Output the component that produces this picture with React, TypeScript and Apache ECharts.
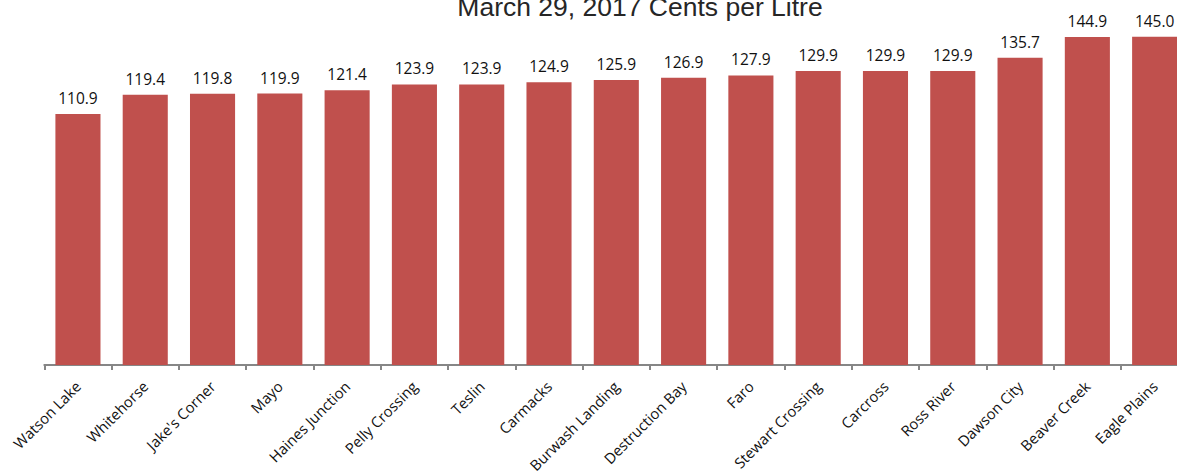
import React, { useEffect, useRef } from "react";
import * as echarts from "echarts";

const titleText = "March 29, 2017 Cents per Litre";
const communities = [
  "Watson Lake",
  "Whitehorse",
  "Jake's Corner",
  "Mayo",
  "Haines Junction",
  "Pelly Crossing",
  "Teslin",
  "Carmacks",
  "Burwash Landing",
  "Destruction Bay",
  "Faro",
  "Stewart Crossing",
  "Carcross",
  "Ross River",
  "Dawson City",
  "Beaver Creek",
  "Eagle Plains",
];
const prices = [
  110.9, 119.4, 119.8, 119.9, 121.4, 123.9, 123.9, 124.9, 125.9, 126.9, 127.9,
  129.9, 129.9, 129.9, 135.7, 144.9, 145.0,
];

export default function App() {
  const ref = useRef<HTMLDivElement>(null);
  useEffect(() => {
    if (!ref.current) return;
    const chart = echarts.init(ref.current, undefined, { renderer: "svg" });
    chart.setOption({
      animation: false,
      graphic: [
        {
          type: "text",
          x: 640,
          y: 7,
          style: {
            text: titleText,
            fontSize: 26.5,
            fontFamily: "Liberation Sans, Arial, sans-serif",
            fill: "#262626",
            textAlign: "center",
            textVerticalAlign: "middle",
          },
        },
      ],
      grid: {
        left: 44.3,
        top: 25.4,
        width: 1144,
        height: 339.6,
        containLabel: false,
        outerBoundsMode: "none",
      },
      xAxis: {
        type: "category",
        data: communities,
        boundaryGap: true,
        axisLine: { lineStyle: { color: "#868686", width: 2 } },
        axisTick: {
          show: true,
          alignWithLabel: false,
          length: 5,
          lineStyle: { color: "#868686", width: 2 },
        },
        axisLabel: {
          interval: 0,
          rotate: 45,
          margin: 18.5,
          fontSize: 14.8,
          fontFamily: "Open Sans, sans-serif",
          color: "#111",
        },
      },
      yAxis: {
        type: "value",
        min: 0,
        max: 150,
        show: false,
        splitLine: { show: false },
      },
      series: [
        {
          type: "bar",
          data: prices,
          barCategoryGap: "33%",
          itemStyle: { color: "#C0504D" },
          label: {
            show: true,
            position: "top",
            distance: 8,
            fontSize: 15.5,
            fontFamily: "Open Sans, sans-serif",
            color: "#111",
            formatter: (p: any) => Number(p.value).toFixed(1),
          },
        },
      ],
    });
    return () => chart.dispose();
  }, []);
  return (
    <div
      style={{
        position: "fixed",
        left: 0,
        top: 0,
        width: 1177,
        height: 473,
        overflow: "hidden",
        background: "#fff",
      }}
    >
      <div ref={ref} style={{ width: 1240, height: 473 }} />
    </div>
  );
}
